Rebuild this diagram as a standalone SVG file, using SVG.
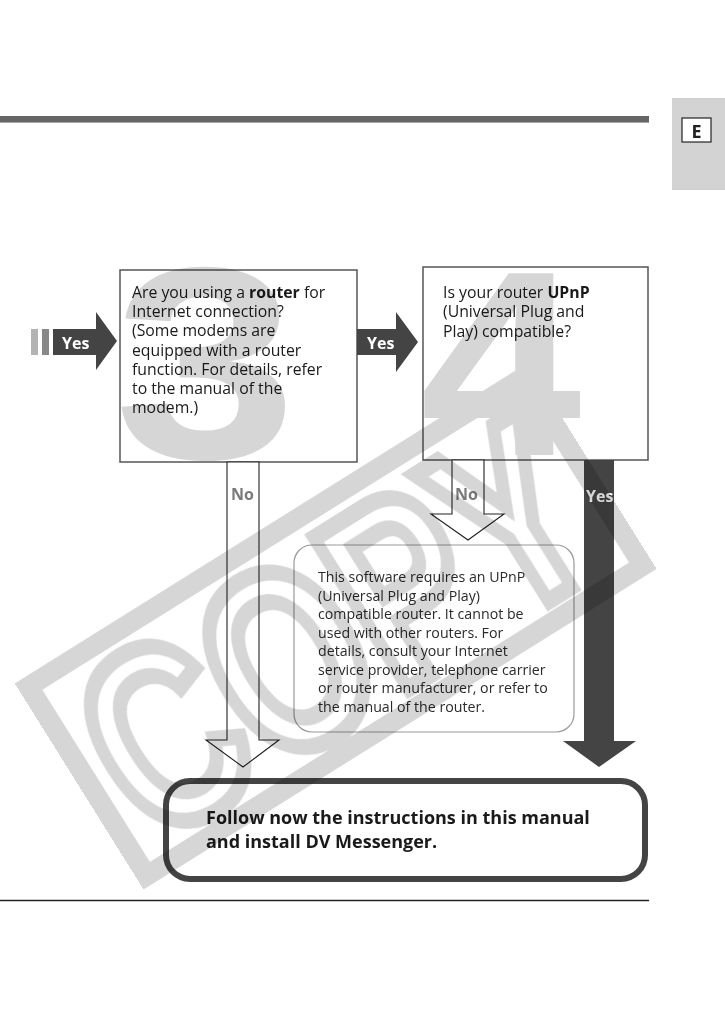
<svg xmlns="http://www.w3.org/2000/svg" width="725" height="1031" viewBox="0 0 725 1031">
  <style>
    .t { font-family: "Open Sans", "Noto Sans", "Liberation Sans", sans-serif; fill: #1a1a1a; }
    .q { font-size: 15.8px; }
    .info { font-size: 14.2px; fill: #2a2a2a; }
    .fin { font-size: 18px; font-weight: 700; }
    .lbl { font-family: "Open Sans", "Noto Sans", "Liberation Sans", sans-serif; font-size: 16px; font-weight: 700; }
    .yes { fill: #ffffff; }
    .no { fill: #7a7a7a; }
    .box { fill: #ffffff; stroke: #555555; stroke-width: 1.5; }
    .hollow { fill: #ffffff; stroke: #222222; stroke-width: 1.1; }
    .solid { fill: #444444; }
    .wm { mix-blend-mode: multiply; }
    .wmfill { fill: #d6d6d6; font-family: "Liberation Sans", "Open Sans", sans-serif; font-weight: 700; }
    .wmline { fill: none; stroke: #d6d6d6; stroke-width: 20; }
    .wmtext { fill: none; stroke: #d6d6d6; stroke-width: 17; font-family: "Liberation Sans", "Open Sans", sans-serif; font-weight: 700; }
  </style>

  <!-- page header -->
  <g id="header">
    <rect x="0" y="116" width="649" height="6" fill="#666666"/>
    <line x1="0" y1="122.5" x2="649" y2="122.5" stroke="#aaaaaa" stroke-width="1"/>
  </g>
  <g id="tab-e">
    <rect x="672" y="98" width="53" height="92" fill="#d3d3d3"/>
    <rect x="682" y="118" width="29" height="24" fill="#ffffff" stroke="#222222" stroke-width="1.2"/>
    <text x="696.5" y="138" text-anchor="middle" class="lbl" style="font-size:18px;fill:#222222">E</text>
  </g>
  <g id="footer">
    <line x1="0" y1="900.5" x2="649" y2="900.5" stroke="#222222" stroke-width="1.3"/>
  </g>

  <!-- nodes -->
  <g id="q-router">
    <rect class="box" x="120" y="270" width="237" height="192"/>
    <text class="t q" x="132" y="298">Are you using a <tspan font-weight="700">router</tspan> for</text>
    <text class="t q" x="132" y="317">Internet connection?</text>
    <text class="t q" x="132" y="336">(Some modems are</text>
    <text class="t q" x="132" y="356">equipped with a router</text>
    <text class="t q" x="132" y="375">function. For details, refer</text>
    <text class="t q" x="132" y="394">to the manual of the</text>
    <text class="t q" x="132" y="413">modem.)</text>
  </g>

  <g id="q-upnp">
    <rect class="box" x="423" y="267" width="225" height="193"/>
    <text class="t q" x="443" y="298">Is your router <tspan font-weight="700">UPnP</tspan></text>
    <text class="t q" x="443" y="317">(Universal Plug and</text>
    <text class="t q" x="443" y="337">Play) compatible?</text>
  </g>

  <g id="note-upnp">
    <rect x="294" y="545" width="280" height="187" rx="18" fill="#ffffff" stroke="#999999" stroke-width="1.2"/>
    <text class="t info" x="318" y="582">This software requires an UPnP</text>
    <text class="t info" x="318" y="600.5">(Universal Plug and Play)</text>
    <text class="t info" x="318" y="619">compatible router. It cannot be</text>
    <text class="t info" x="318" y="637.5">used with other routers. For</text>
    <text class="t info" x="318" y="656">details, consult your Internet</text>
    <text class="t info" x="318" y="674.5">service provider, telephone carrier</text>
    <text class="t info" x="318" y="693">or router manufacturer, or refer to</text>
    <text class="t info" x="318" y="711.5">the manual of the router.</text>
  </g>

  <g id="final">
    <rect x="166" y="781" width="479" height="98" rx="24" fill="#ffffff" stroke="#444444" stroke-width="6"/>
    <text class="t fin" x="206" y="824">Follow now the instructions in this manual</text>
    <text class="t fin" x="206" y="848">and install DV Messenger.</text>
  </g>

  <!-- connectors -->
  <g id="connectors">
    <g id="yes-in">
      <rect x="31" y="329" width="7" height="26" fill="#b3b3b3"/>
      <rect x="42" y="329" width="7" height="26" fill="#888888"/>
      <polygon class="solid" points="53,329 96,329 96,312 117,341 96,370 96,355 53,355"/>
      <text class="lbl yes" x="62" y="349">Yes</text>
    </g>
    <g id="yes-1-2">
      <polygon class="solid" points="357,329 396,329 396,312 418,342 396,372 396,355 357,355"/>
      <text class="lbl yes" x="367" y="349">Yes</text>
    </g>
    <g id="no-1-final">
      <polygon class="hollow" points="227,462 259,462 259,740 279,740 243,767 206,740 227,740"/>
      <text class="lbl no" x="231" y="500">No</text>
    </g>
    <g id="no-2-note">
      <polygon class="hollow" points="452,460 484,460 484,514 504,514 468,540 431,514 452,514"/>
      <text class="lbl no" x="455" y="500">No</text>
    </g>
    <g id="yes-2-final">
      <polygon class="solid" points="584,460 614,460 614,741 636,741 599,767 563,741 584,741"/>
      <text class="lbl yes" x="586" y="502">Yes</text>
    </g>
  </g>

  <!-- watermark overlay -->
  <g id="watermark" class="wm">
    <text class="wmfill" transform="translate(114 458) scale(1.2 1)" font-size="274">3</text>
    <text class="wmfill" transform="translate(420 455) scale(1.1 1)" font-size="264">4</text>
    <g transform="translate(335 626) rotate(-32)">
      <rect class="wmline" x="-292" y="-111" width="585" height="223"/>
      <text class="wmtext" x="-272" y="92" font-size="258" textLength="544" lengthAdjust="spacingAndGlyphs">COPY</text>
    </g>
  </g>
</svg>
